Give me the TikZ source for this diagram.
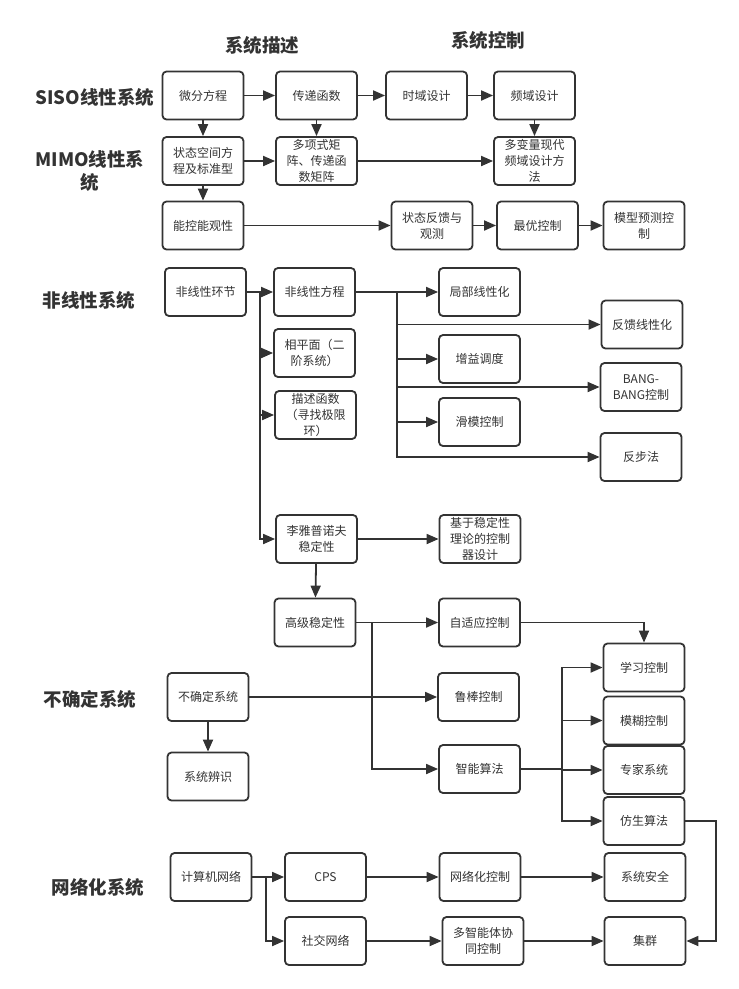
\documentclass[tikz,border=0pt]{standalone}
\usepackage{fontspec}
\setmainfont{Noto Sans CJK SC}
\usetikzlibrary{arrows.meta}
\definecolor{ink}{RGB}{51,51,51}
\begin{document}
\begin{tikzpicture}[x=1pt,y=-1pt,
  font=\fontsize{12}{16}\selectfont,
  box/.style={draw=ink,line width=1.8pt,rounded corners=4pt,fill=white,
    minimum width=81pt,minimum height=48pt,align=center,text=ink,inner sep=2pt},
  lbl/.style={font=\fontsize{18.5}{23}\selectfont\bfseries,text=ink,align=center},
  ln/.style={draw=ink,line width=1.8pt},
  arr/.style={ln,-{Triangle[length=12pt,width=10pt]}}]
\useasboundingbox (0,0) rectangle (739,989);
\node[lbl] (tms) at (262,45) {系统描述};
\node[lbl] (tkz) at (488,40) {系统控制};
\node[lbl] (lsiso) at (95,97) {SISO线性系统};
\node[lbl] (lmimo) at (90,171) {MIMO线性系\\统};
\node[lbl] (lfx) at (89,300) {非线性系统};
\node[lbl] (lbq) at (90,699) {不确定系统};
\node[lbl] (lwl) at (98,887) {网络化系统};
\node[box] (wf) at (203,95.5) {微分方程};
\node[box] (cd) at (316.5,95.5) {传递函数};
\node[box] (sy) at (426.5,95.5) {时域设计};
\node[box] (py) at (534.5,95.5) {频域设计};
\node[box] (zt) at (203,161) {状态空间方\\程及标准型};
\node[box] (dx) at (316.5,161) {多项式矩\\阵、传递函\\数矩阵};
\node[box] (dbl) at (534.5,161) {多变量现代\\频域设计方\\法};
\node[box] (nk) at (203,225.5) {能控能观性};
\node[box] (zf) at (432,225.5) {状态反馈与\\观测};
\node[box] (zy) at (537.5,225.5) {最优控制};
\node[box] (mx) at (644,225.5) {模型预测控\\制};
\node[box] (fh) at (205.5,292) {非线性环节};
\node[box] (ff) at (314.5,292) {非线性方程};
\node[box] (xp) at (314.5,353) {相平面（二\\阶系统）};
\node[box] (ms) at (315.5,415) {描述函数\\（寻找极限\\环）};
\node[box] (jb) at (479.5,292) {局部线性化};
\node[box] (fk) at (642,324.5) {反馈线性化};
\node[box] (zd) at (479.5,359) {增益调度};
\node[box] (bb) at (641,387) {BANG-\\BANG控制};
\node[box] (hm) at (479.5,422) {滑模控制};
\node[box] (fb) at (641,457) {反步法};
\node[box] (lyp) at (316.5,539) {李雅普诺夫\\稳定性};
\node[box] (jy) at (480,539) {基于稳定性\\理论的控制\\器设计};
\node[box] (gj) at (315,622.5) {高级稳定性};
\node[box] (zsy) at (479.5,622.5) {自适应控制};
\node[box] (bq) at (208,697) {不确定系统};
\node[box] (bs) at (208,776.5) {系统辨识};
\node[box] (lb) at (478.5,697) {鲁棒控制};
\node[box] (zn) at (479.5,769) {智能算法};
\node[box] (xx) at (644,667.5) {学习控制};
\node[box] (mh) at (644,720.5) {模糊控制};
\node[box] (zj) at (644,770) {专家系统};
\node[box] (fs) at (644,821) {仿生算法};
\node[box] (js) at (211,877) {计算机网络};
\node[box] (cps) at (325.5,877) {CPS};
\node[box] (wl) at (480,877) {网络化控制};
\node[box] (aq) at (645,877) {系统安全};
\node[box] (sj) at (325.5,941) {社交网络};
\node[box] (dzn) at (483,941) {多智能体协\\同控制};
\node[box] (jq) at (645,941) {集群};
\coordinate (t1) at (260,292);
\coordinate (t2) at (397,292);
\coordinate (t3) at (372,622.5);
\coordinate (t4) at (562,769);
\coordinate (t5) at (266,877);
\coordinate (c1) at (716,821);
\draw[arr] (wf) -- (cd);
\draw[arr] (cd) -- (sy);
\draw[arr] (sy) -- (py);
\draw[arr] (wf) -- (zt);
\draw[arr] (cd) -- (dx);
\draw[arr] (py) -- (dbl);
\draw[arr] (zt) -- (dx);
\draw[arr] (dx) -- (dbl);
\draw[arr] (zt) -- (nk);
\draw[arr] (nk) -- (zf);
\draw[arr] (zf) -- (zy);
\draw[arr] (zy) -- (mx);
\draw[arr] (fh) -- (ff);
\draw[arr] (t1) |- (xp);
\draw[arr] (t1) |- (ms);
\draw[arr] (t1) |- (lyp);
\draw[arr] (ff) -- (jb);
\draw[arr] (t2) |- (fk);
\draw[arr] (t2) |- (zd);
\draw[arr] (t2) |- (bb);
\draw[arr] (t2) |- (hm);
\draw[arr] (t2) |- (fb);
\draw[arr] (lyp) -- (jy);
\draw[arr] (lyp) -- (gj);
\draw[arr] (gj) -- (zsy);
\draw[arr] (t3) |- (zn);
\draw[arr] (bq) -- (lb);
\draw[arr] (bq) -- (bs);
\draw[arr] (zsy) -| (xx);
\draw[ln] (zn) -- (t4);
\draw[arr] (t4) |- (xx);
\draw[arr] (t4) |- (mh);
\draw[arr] (t4) |- (zj);
\draw[arr] (t4) |- (fs);
\draw[arr] (fs) -- (c1) |- (jq);
\draw[arr] (js) -- (cps);
\draw[arr] (t5) |- (sj);
\draw[arr] (cps) -- (wl);
\draw[arr] (wl) -- (aq);
\draw[arr] (sj) -- (dzn);
\draw[arr] (dzn) -- (jq);
\end{tikzpicture}
\end{document}
